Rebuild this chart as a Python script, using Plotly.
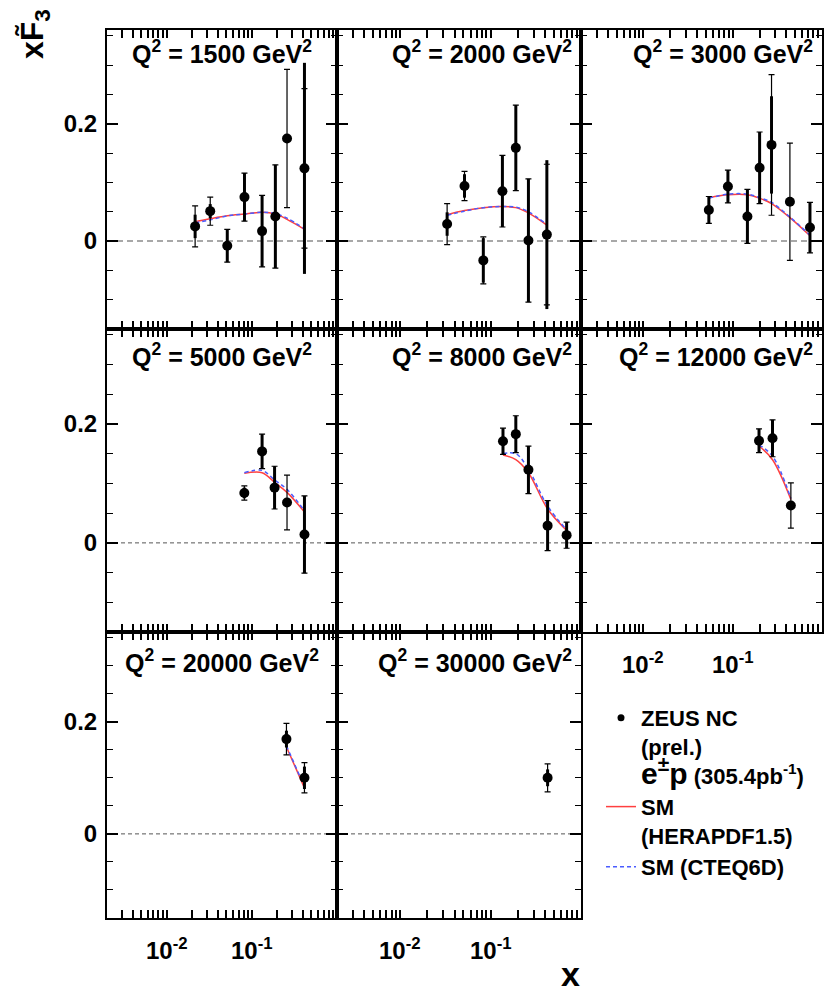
import math
import plotly.graph_objects as go

# ---------------------------------------------------------------------------
# ZEUS NC xF3 measurements per Q^2 bin: x, xF3, inner (thick) and outer
# (capped) uncertainties, plus SM predictions at the same x values.
# ---------------------------------------------------------------------------
q2_bins = [1500, 2000, 3000, 5000, 8000, 12000, 20000, 30000]

x_1500 = [0.0216, 0.0325, 0.0515, 0.082, 0.132, 0.189, 0.259, 0.415]
f3_1500 = [0.025, 0.051, -0.008, 0.075, 0.017, 0.042, 0.175, 0.124]
ein_1500 = [0.020, 0.012, 0.028, 0.041, 0.061, 0.088, 0.0, 0.180]
eout_1500 = [0.035, 0.024, 0.028, 0.041, 0.061, 0.088, 0.118, 0.136]
hera_1500 = [0.033, 0.038, 0.043, 0.046, 0.049, 0.046, 0.037, 0.020]
cteq_1500 = [0.031, 0.036, 0.043, 0.046, 0.049, 0.047, 0.039, 0.021]

x_2000 = [0.033, 0.0514, 0.083, 0.135, 0.19, 0.262, 0.419]
f3_2000 = [0.029, 0.094, -0.033, 0.085, 0.159, 0.001, 0.011]
ein_2000 = [0.020, 0.020, 0.038, 0.061, 0.073, 0.105, 0.127]
eout_2000 = [0.035, 0.025, 0.040, 0.061, 0.073, 0.105, 0.120]
hera_2000 = [0.045, 0.052, 0.057, 0.059, 0.057, 0.048, 0.027]
cteq_2000 = [0.044, 0.051, 0.057, 0.059, 0.058, 0.050, 0.028]

x_3000 = [0.054, 0.0883, 0.146, 0.2, 0.272, 0.437, 0.733]
f3_3000 = [0.053, 0.093, 0.042, 0.125, 0.164, 0.067, 0.023]
ein_3000 = [0.023, 0.028, 0.046, 0.061, 0.083, 0.0, 0.043]
eout_3000 = [0.023, 0.028, 0.046, 0.061, 0.120, 0.100, 0.043]
hera_3000 = [0.074, 0.079, 0.079, 0.073, 0.064, 0.040, 0.009]
cteq_3000 = [0.073, 0.080, 0.080, 0.074, 0.066, 0.041, 0.010]

x_5000 = [0.0817, 0.132, 0.185, 0.259, 0.415]
f3_5000 = [0.084, 0.154, 0.093, 0.068, 0.014]
ein_5000 = [0.009, 0.029, 0.036, 0.0, 0.065]
eout_5000 = [0.012, 0.029, 0.036, 0.046, 0.065]
hera_5000 = [0.117, 0.118, 0.102, 0.085, 0.052]
cteq_5000 = [0.118, 0.122, 0.106, 0.090, 0.054]

x_8000 = [0.137, 0.19, 0.262, 0.427, 0.693]
f3_8000 = [0.171, 0.183, 0.123, 0.029, 0.013]
ein_8000 = [0.022, 0.031, 0.040, 0.042, 0.022]
eout_8000 = [0.022, 0.031, 0.040, 0.042, 0.022]
hera_8000 = [0.148, 0.140, 0.118, 0.057, 0.021]
cteq_8000 = [0.150, 0.150, 0.124, 0.062, 0.022]

x_12000 = [0.197, 0.279, 0.448]
f3_12000 = [0.172, 0.176, 0.063]
ein_12000 = [0.020, 0.031, 0.0]
eout_12000 = [0.020, 0.031, 0.038]
hera_12000 = [0.163, 0.140, 0.073]
cteq_12000 = [0.165, 0.146, 0.075]

x_20000 = [0.255, 0.415]
f3_20000 = [0.169, 0.100]
ein_20000 = [0.015, 0.020]
eout_20000 = [0.028, 0.027]
hera_20000 = [0.155, 0.082]
cteq_20000 = [0.157, 0.084]

x_30000 = [0.427]
f3_30000 = [0.100]
ein_30000 = [0.015]
eout_30000 = [0.025]
hera_30000 = []
cteq_30000 = []

x_decades = [0.01, 0.1]
x_decade_text = ["10<sup>-2</sup>", "10<sup>-1</sup>"]
y_tick_vals = [0, 0.2]
y_tick_text = ["0", "0.2"]

# ---------------------------------------------------------------------------
# layout geometry (pixels in a 826 x 992 canvas)
# ---------------------------------------------------------------------------
W, H = 826, 992
COL_PX = [(107, 337), (337, 581), (581, 822)]
ROW_PX = [(30, 329), (329, 632), (632, 918)]
TITLE_DY = [22, 26, 29]
XLABEL_DY = 31          # decade labels sit this far below the bottom frame

FONT = "Liberation Sans, Arial, Helvetica, sans-serif"
RED = "#ff4040"
BLUE = "#4a5cff"

panels = [
    (x_1500, f3_1500, ein_1500, eout_1500, hera_1500, cteq_1500),
    (x_2000, f3_2000, ein_2000, eout_2000, hera_2000, cteq_2000),
    (x_3000, f3_3000, ein_3000, eout_3000, hera_3000, cteq_3000),
    (x_5000, f3_5000, ein_5000, eout_5000, hera_5000, cteq_5000),
    (x_8000, f3_8000, ein_8000, eout_8000, hera_8000, cteq_8000),
    (x_12000, f3_12000, ein_12000, eout_12000, hera_12000, cteq_12000),
    (x_20000, f3_20000, ein_20000, eout_20000, hera_20000, cteq_20000),
    (x_30000, f3_30000, ein_30000, eout_30000, hera_30000, cteq_30000),
]

# log-axis ticks: every integer multiple of a decade (labels are added separately)
x_ticks = [m * 10.0 ** e for e in (-3, -2, -1) for m in range(1, 10) if m * 10.0 ** e >= 0.002]
x_blank = [""] * len(x_ticks)
y_minor = [-0.1, -0.05, 0.05, 0.1, 0.15, 0.25, 0.3, 0.35]

tickfont = dict(family=FONT, size=24, weight="bold", color="black")

fig = go.Figure()
layout = dict(
    width=W, height=H,
    margin=dict(l=0, r=0, t=0, b=0),
    paper_bgcolor="white", plot_bgcolor="white",
    font=dict(family=FONT, color="black", size=22, weight="bold"),
    showlegend=True,
)
shapes = []
annotations = []


def axname(prefix, n):
    return prefix if n == 1 else f"{prefix}{n}"


for i, (q2, data) in enumerate(zip(q2_bins, panels)):
    xs, ys, e_in, e_out, hera, cteq = data
    row, col = divmod(i, 3)
    n = i + 1
    xa, ya = axname("x", n), axname("y", n)
    c0, c1 = COL_PX[col]
    r0, r1 = ROW_PX[row]

    show_xlab = (row == 2) or (row == 1 and col == 2)
    show_ylab = col == 0

    layout[f"xaxis{'' if n == 1 else n}"] = dict(
        type="log", range=[-2.7, 0], domain=[c0 / W, c1 / W], anchor=ya,
        showline=True, linewidth=2, linecolor="black", mirror="ticks",
        ticks="inside", ticklen=8, tickwidth=1.5, tickcolor="black",
        tickmode="array", tickvals=x_ticks, ticktext=x_blank,
        showticklabels=True, tickfont=tickfont,
        showgrid=False, zeroline=False, fixedrange=True,
    )
    layout[f"yaxis{'' if n == 1 else n}"] = dict(
        range=[-0.15, 0.36], domain=[1 - r1 / H, 1 - r0 / H], anchor=xa,
        showline=True, linewidth=2, linecolor="black", mirror="ticks",
        ticks="inside", ticklen=11, tickwidth=1.5, tickcolor="black",
        tickvals=y_tick_vals, ticktext=y_tick_text,
        showticklabels=show_ylab, ticklabelstandoff=3, tickfont=tickfont,
        minor=dict(tickvals=y_minor, ticks="inside", ticklen=6, tickwidth=1.2, tickcolor="black"),
        showgrid=False, zeroline=False, fixedrange=True,
    )

    # decade labels under the bottom frame, placed on the axis' own scale
    if show_xlab:
        for v, txt in zip(x_decades, x_decade_text):
            annotations.append(dict(text=txt, xref=xa, x=math.log10(v), yref="paper",
                                    y=1 - (r1 + XLABEL_DY) / H, xanchor="center", yanchor="middle",
                                    showarrow=False, font=tickfont))

    # zero reference line
    if row == 0:
        zl = dict(color="#a8a8a8", width=2, dash="6px,4px")
    else:
        zl = dict(color="#555555", width=1, dash="4px,3px")
    shapes.append(dict(type="line", xref=f"{xa} domain", x0=0, x1=1,
                       yref=ya, y0=0, y1=0, line=zl, layer="below"))

    # SM predictions
    if hera:
        fig.add_trace(go.Scatter(x=xs, y=hera, mode="lines", xaxis=xa, yaxis=ya,
                                 line=dict(color=RED, width=1.5, shape="spline"),
                                 showlegend=False, hoverinfo="skip"))
        fig.add_trace(go.Scatter(x=xs, y=cteq, mode="lines", xaxis=xa, yaxis=ya,
                                 line=dict(color=BLUE, width=1.5, dash="4px,3px", shape="spline"),
                                 showlegend=False, hoverinfo="skip"))

    # outer (capped) error bars
    fig.add_trace(go.Scatter(x=xs, y=ys, mode="markers", xaxis=xa, yaxis=ya,
                             marker=dict(size=0, color="black"),
                             error_y=dict(type="data", array=e_out, width=3, thickness=1.2, color="black"),
                             showlegend=False, hoverinfo="skip"))
    # inner (thick) error bars with data points
    fig.add_trace(go.Scatter(x=xs, y=ys, mode="markers", xaxis=xa, yaxis=ya,
                             marker=dict(size=10, color="black"),
                             error_y=dict(type="data", array=e_in, width=0, thickness=3, color="black"),
                             showlegend=False))

    # panel title
    title = f"Q<sup>2</sup> = {q2} GeV<sup>2</sup>"
    ty = 1 - (r0 + TITLE_DY[row]) / H
    tfont = dict(family=FONT, size=25, weight="bold", color="black")
    if col == 0:
        annotations.append(dict(text=title, x=(c0 + c1) / 2 / W, y=ty, xref="paper", yref="paper",
                                xanchor="center", yanchor="middle", showarrow=False, font=tfont))
    else:
        annotations.append(dict(text=title, x=(c1 - 7) / W, y=ty, xref="paper", yref="paper",
                                xanchor="right", yanchor="middle", showarrow=False, font=tfont))

# legend entries
fig.add_trace(go.Scatter(x=[None], y=[None], mode="markers",
                         marker=dict(size=7, color="black"),
                         name="ZEUS NC<br>(prel.)<br><span style='font-size:30px'>e<sup>±</sup>p</span>"
                              " (305.4pb<sup>-1</sup>)"))
fig.add_trace(go.Scatter(x=[None], y=[None], mode="lines",
                         line=dict(color=RED, width=1.5), name="SM<br>(HERAPDF1.5)"))
fig.add_trace(go.Scatter(x=[None], y=[None], mode="lines",
                         line=dict(color=BLUE, width=1.5, dash="4px,3px"), name="SM (CTEQ6D)"))

layout["legend"] = dict(
    x=601 / W, y=1 - 697 / H, xanchor="left", yanchor="top",
    bgcolor="rgba(0,0,0,0)", borderwidth=0, valign="top",
    font=dict(family=FONT, size=22, weight="bold", color="black"),
    tracegroupgap=0,
)

# axis titles
annotations.append(dict(text="xF\u0303<sub>3</sub>", x=34 / W, y=1 - 34 / H, xref="paper", yref="paper",
                        textangle=-90, showarrow=False, xanchor="center", yanchor="middle",
                        font=dict(family=FONT, size=32, weight="bold", color="black")))
annotations.append(dict(text="x", x=570 / W, y=1 - 974 / H, xref="paper", yref="paper",
                        showarrow=False, xanchor="center", yanchor="middle",
                        font=dict(family=FONT, size=34, weight="bold", color="black")))

layout["shapes"] = shapes
layout["annotations"] = annotations
fig.update_layout(**layout)

fig.write_html("out.html")
